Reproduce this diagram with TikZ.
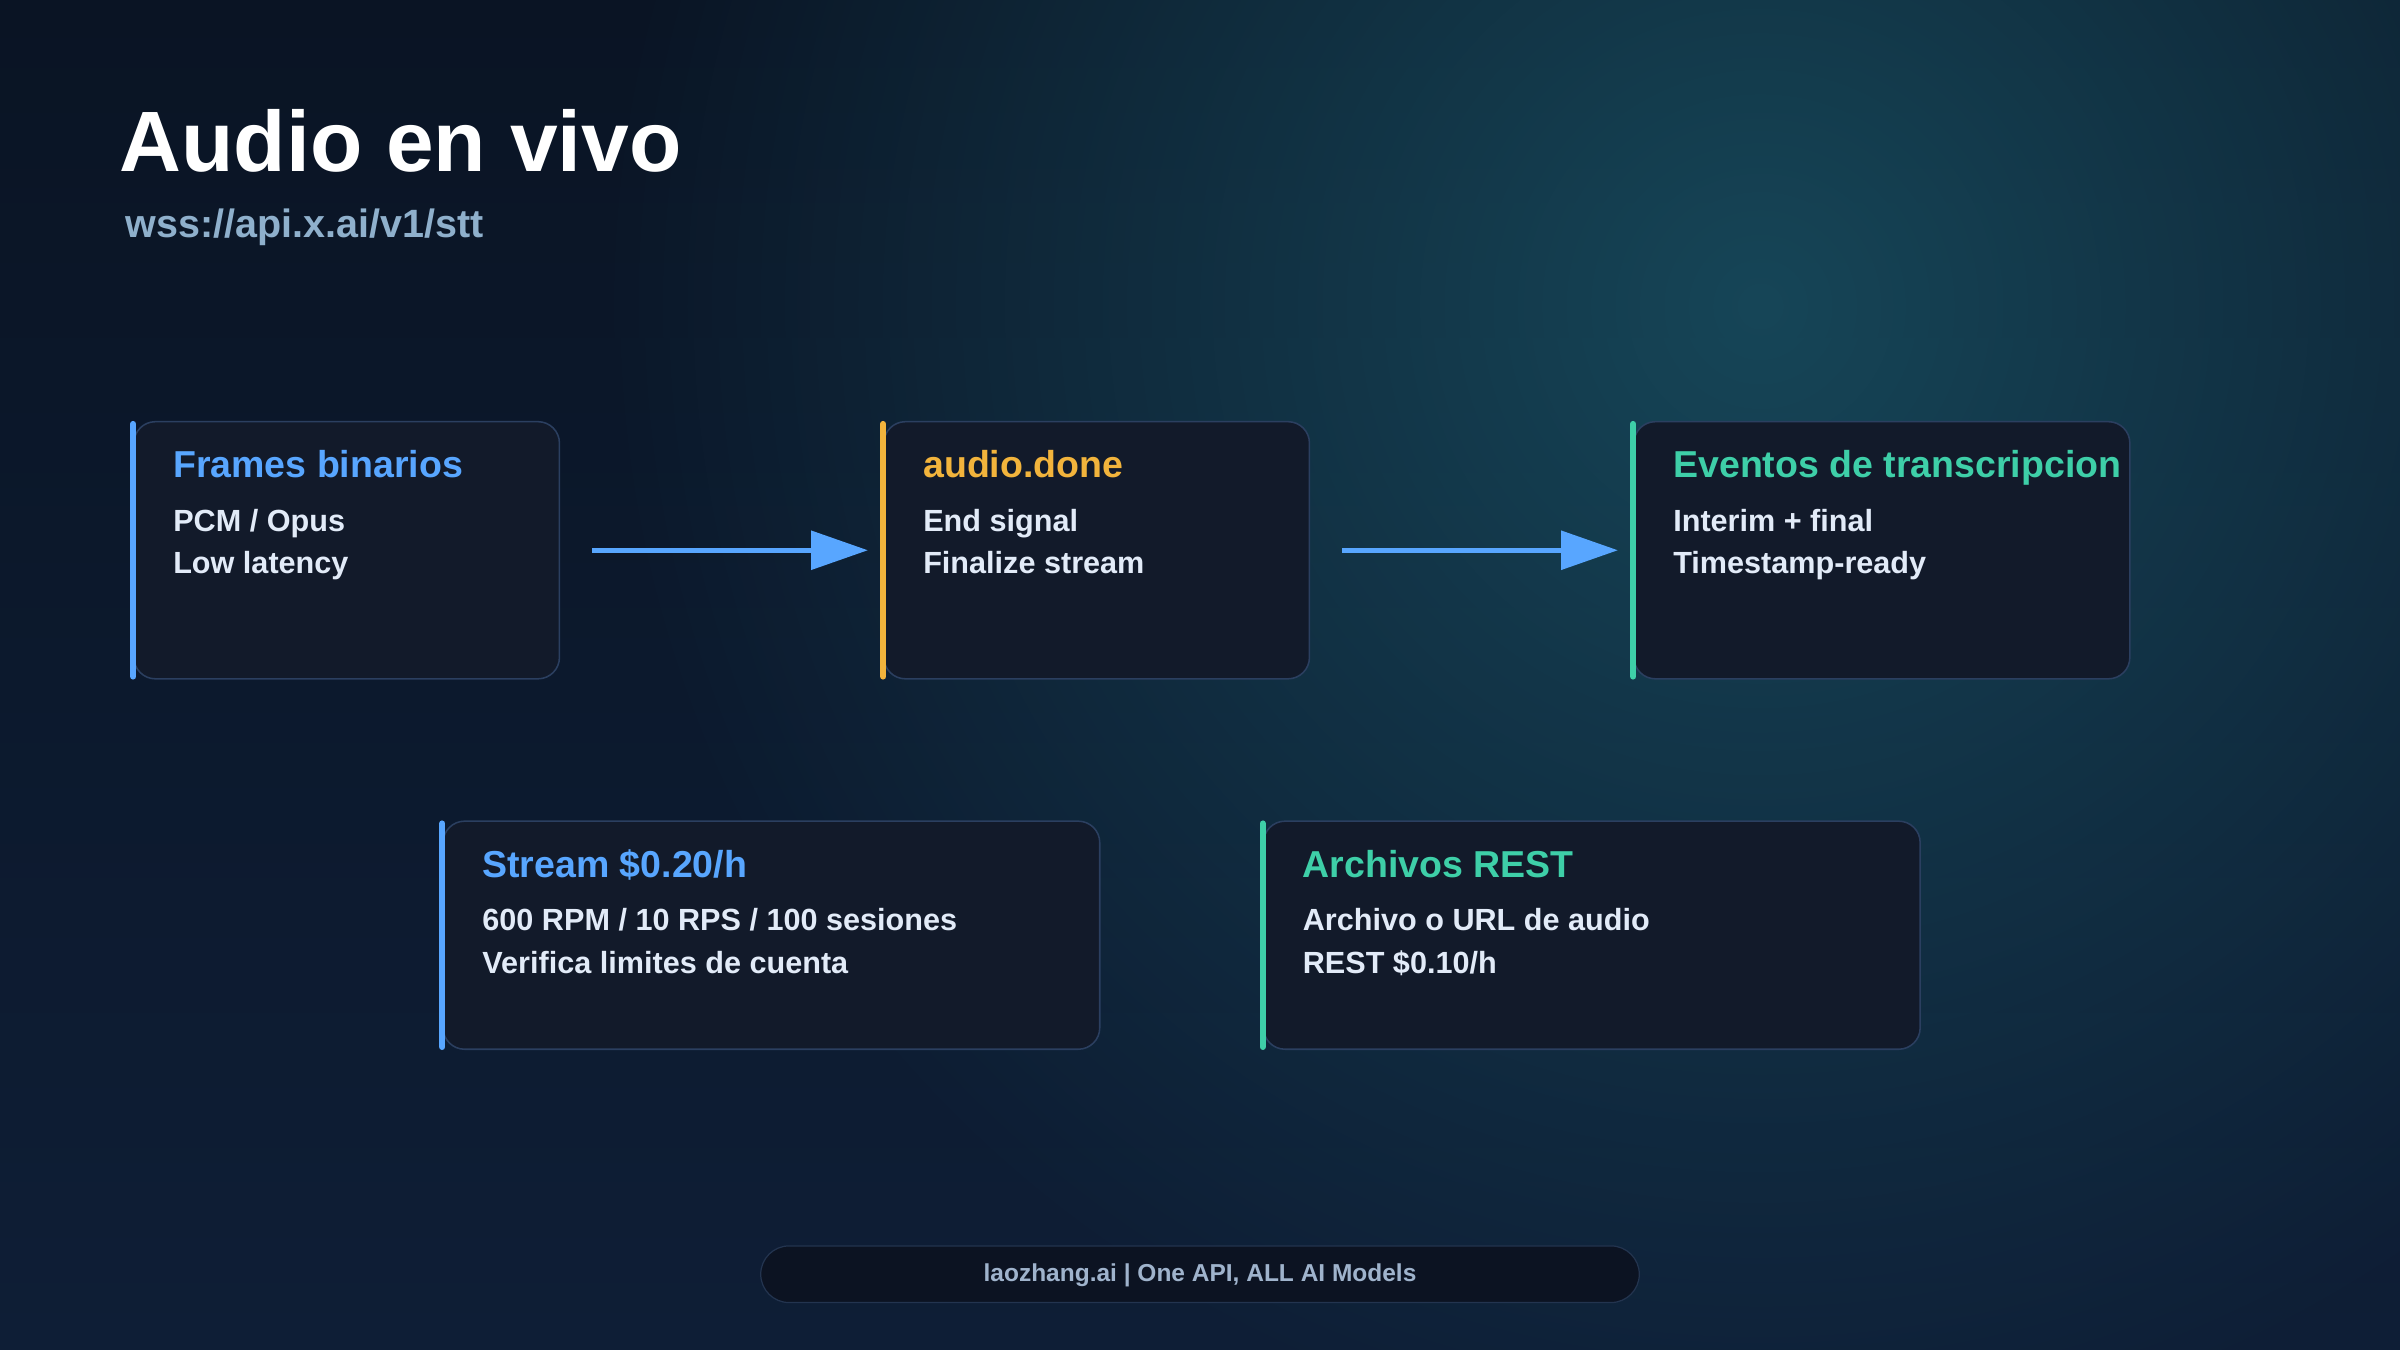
\documentclass[tikz,border=0pt]{standalone}
\usepackage{fontspec}
\setmainfont{Liberation Sans}
\usetikzlibrary{arrows.meta,fadings}
\definecolor{bgtop}{HTML}{0A1424}
\definecolor{bgbot}{HTML}{0E1E36}
\definecolor{glow}{HTML}{1A5668}
\definecolor{boxfill}{HTML}{121A2A}
\definecolor{boxline}{HTML}{2B3F60}
\definecolor{cblue}{HTML}{58A6FF}
\definecolor{corange}{HTML}{F2B43C}
\definecolor{cteal}{HTML}{3ECFA8}
\definecolor{bodytxt}{HTML}{E2EBF8}
\definecolor{subtxt}{HTML}{8FB0CC}
\definecolor{foottxt}{HTML}{9FB3CC}
\definecolor{footfill}{HTML}{0C1322}
\definecolor{footline}{HTML}{23344F}
\tikzfading[name=glowfade, inner color=transparent!25, outer color=transparent!100]
\tikzset{
  card/.style={draw=boxline, line width=1pt, fill=boxfill, rounded corners=14pt, anchor=north west, inner sep=0pt},
  cardtitle/.style={anchor=base west, inner sep=0pt, font=\bfseries\fontsize{24.5}{28}\selectfont},
  cardbody/.style={anchor=base west, inner sep=0pt, text=bodytxt, font=\bfseries\fontsize{20}{24}\selectfont},
  accent/.style={line width=4pt, line cap=round, shorten <=2pt, shorten >=2pt},
  flow/.style={draw=cblue, line width=3pt, -{Triangle[length=37pt,width=25pt]}}
}
\begin{document}
\begin{tikzpicture}[x=1pt,y=-1pt]
\useasboundingbox (0,0) rectangle (1568,882);
% background
\shade[top color=bgtop, bottom color=bgbot] (0,0) rectangle (1568,882);
\begin{scope}
\clip (0,0) rectangle (1568,882);
\fill[glow, path fading=glowfade] (1150,200) circle (760);
\end{scope}
% title
\node[anchor=base west, inner sep=0pt, text=white, font=\bfseries\fontsize{56}{60}\selectfont] (title) at (78,112) {Audio en vivo};
\node[anchor=base west, inner sep=0pt, text=subtxt, font=\bfseries\fontsize{25.8}{30}\selectfont] (sub) at (82,155) {wss://api.x.ai/v1/stt};
% cards
\node[card, minimum width=278pt, minimum height=168pt] (b1) at (87,275) {};
\node[card, minimum width=278pt, minimum height=168pt] (b2) at (577,275) {};
\node[card, minimum width=324pt, minimum height=168pt] (b3) at (1067,275) {};
\node[card, minimum width=429pt, minimum height=149pt] (b4) at (289,536) {};
\node[card, minimum width=429pt, minimum height=149pt] (b5) at (825,536) {};
% accents
\draw[accent, cblue] (b1.north west) -- (b1.south west);
\draw[accent, corange] (b2.north west) -- (b2.south west);
\draw[accent, cteal] (b3.north west) -- (b3.south west);
\draw[accent, cblue] (b4.north west) -- (b4.south west);
\draw[accent, cteal] (b5.north west) -- (b5.south west);
% card texts
\node[cardtitle, text=cblue] (t1) at (113,312) {Frames binarios};
\node[cardbody] (t1a) at (113,347) {PCM / Opus};
\node[cardbody] (t1b) at (113,375) {Low latency};
\node[cardtitle, text=corange] (t2) at (603,312) {audio.done};
\node[cardbody] (t2a) at (603,347) {End signal};
\node[cardbody] (t2b) at (603,375) {Finalize stream};
\node[cardtitle, text=cteal] (t3) at (1093,312) {Eventos de transcripcion};
\node[cardbody] (t3a) at (1093,347) {Interim + final};
\node[cardbody] (t3b) at (1093,375) {Timestamp-ready};
\node[cardtitle, text=cblue] (t4) at (315,573) {Stream \$0.20/h};
\node[cardbody] (t4a) at (315,608) {600 RPM / 10 RPS / 100 sesiones};
\node[cardbody] (t4b) at (315,636) {Verifica limites de cuenta};
\node[cardtitle, text=cteal] (t5) at (851,573) {Archivos REST};
\node[cardbody] (t5a) at (851,608) {Archivo o URL de audio};
\node[cardbody] (t5b) at (851,636) {REST \$0.10/h};
% arrows
\draw[flow, shorten <=21pt, shorten >=10pt] (b1.east) -- (b2.west);
\draw[flow, shorten <=21pt, shorten >=10pt] (b2.east) -- (b3.west);
% footer
\node[draw=footline, line width=0.8pt, fill=footfill, rounded corners=18.5pt, minimum width=574pt, minimum height=37pt, inner sep=0pt] (foot) at (784,832.5) {};
\node[text=foottxt, font=\bfseries\fontsize{16}{20}\selectfont, inner sep=0pt] (foottext) at (784,833.5) {laozhang.ai | One API, ALL AI Models};
\end{tikzpicture}
\end{document}
